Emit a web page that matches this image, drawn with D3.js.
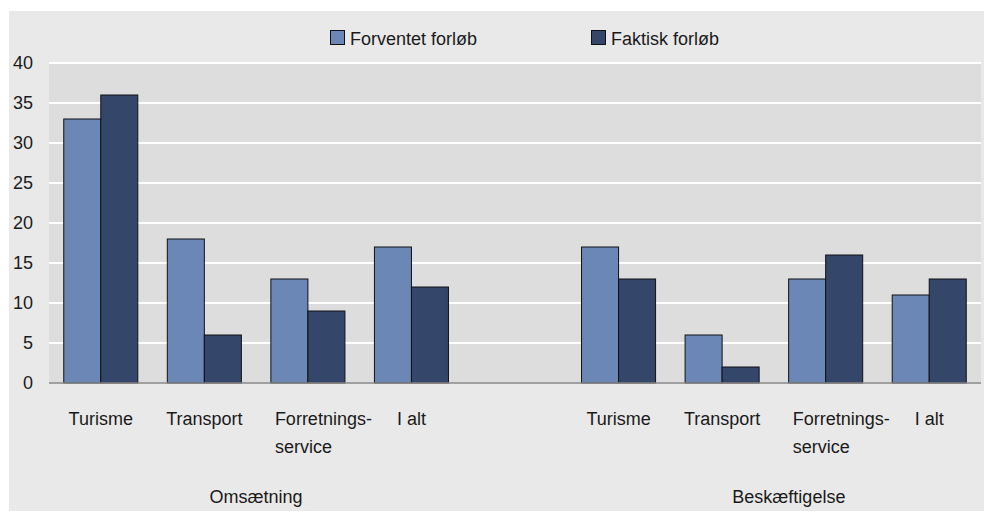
<!DOCTYPE html>
<html><head><meta charset="utf-8">
<script src="https://cdn.jsdelivr.net/npm/d3@7"></script>
<style>
html,body{margin:0;padding:0;background:#fff;}
svg{display:block;font-family:"Liberation Sans",Arial,sans-serif;}
</style></head>
<body>
<svg id="chart" width="984" height="512"></svg>
<script>
const slots = ["O-Turisme","O-Transport","O-Forretningsservice","O-I alt","gap","B-Turisme","B-Transport","B-Forretningsservice","B-I alt"];
const categoryLabels = [["Turisme"],["Transport"],["Forretnings-","service"],["I alt"],[],["Turisme"],["Transport"],["Forretnings-","service"],["I alt"]];
const groups = ["Omsætning","Beskæftigelse"];
const seriesNames = ["Forventet forløb","Faktisk forløb"];
const forventet = [33,18,13,17,null,17,6,13,11];
const faktisk   = [36,6,9,12,null,13,2,16,13];
const yTicks = [0,5,10,15,20,25,30,35,40];
const colors = ["#6b87b6","#34476b"];

const svg = d3.select("#chart");
const W = 984, H = 512;
const plot = {left:49, right:981, top:63, bottom:383};

svg.append("rect").attr("x",9).attr("y",11).attr("width",W-9).attr("height",H-11-1).attr("fill","#e9e9e9");
svg.append("rect").attr("x",plot.left).attr("y",plot.top).attr("width",plot.right-plot.left).attr("height",plot.bottom-plot.top).attr("fill","#dddddd");

const x = d3.scaleBand().domain(slots).range([plot.left,plot.right]).paddingInner(0.285).paddingOuter(0.1425);
const xs = d3.scaleBand().domain([0,1]).range([0,x.bandwidth()]);
const y = d3.scaleLinear().domain([0,40]).range([plot.bottom,plot.top]);

// grid
svg.append("g").selectAll("line").data(yTicks.filter(d=>d>0)).join("line")
  .attr("x1",plot.left).attr("x2",plot.right)
  .attr("y1",d=>y(d)).attr("y2",d=>y(d))
  .attr("stroke","#ffffff").attr("stroke-width",2);

// y labels
svg.append("g").selectAll("text").data(yTicks).join("text")
  .attr("x",33).attr("y",d=>y(d)).attr("text-anchor","end").attr("dominant-baseline","central")
  .attr("font-size",18).attr("fill","#1a1a1a").text(d=>d);

// bars
const data = [forventet, faktisk];
data.forEach((vals,si)=>{
  svg.append("g").selectAll("rect").data(slots.map((s,i)=>({s,v:vals[i]})).filter(d=>d.v!==null)).join("rect")
    .attr("x",d=>x(d.s)+xs(si)).attr("width",xs.bandwidth())
    .attr("y",d=>y(d.v)).attr("height",d=>y(0)-y(d.v))
    .attr("fill",colors[si]).attr("stroke","#111").attr("stroke-width",1);
});

// baseline
svg.append("line").attr("x1",plot.left).attr("x2",plot.right).attr("y1",y(0)).attr("y2",y(0)).attr("stroke","#888").attr("stroke-width",1.5);

// category labels
slots.forEach((s,i)=>{
  const lines = categoryLabels[i];
  if(!lines.length) return;
  const cx = x(s)+x.bandwidth()/2;
  const multi = lines.length>1;
  const t = svg.append("text").attr("font-size",18).attr("fill","#1a1a1a")
    .attr("text-anchor",multi?"start":"middle");
  lines.forEach((l,k)=>{
    t.append("tspan").attr("x",multi?cx-33:cx).attr("y",425+k*28).text(l);
  });
});

// group labels
const groupCenters = [
  (x(slots[0])+x(slots[3])+x.bandwidth())/2,
  (x(slots[5])+x(slots[8])+x.bandwidth())/2 + 15
];
groups.forEach((g,i)=>{
  svg.append("text").attr("x",groupCenters[i]).attr("y",503).attr("text-anchor","middle")
    .attr("font-size",18).attr("fill","#1a1a1a").text(g);
});

// legend
const legendX = [330,591];
seriesNames.forEach((n,i)=>{
  svg.append("rect").attr("x",legendX[i]+0.5).attr("y",30.5).attr("width",14).attr("height",14)
    .attr("fill",colors[i]).attr("stroke","#111").attr("stroke-width",1);
  svg.append("text").attr("x",legendX[i]+20).attr("y",45).attr("font-size",18).attr("fill","#1a1a1a").text(n);
});
</script>
</body></html>
